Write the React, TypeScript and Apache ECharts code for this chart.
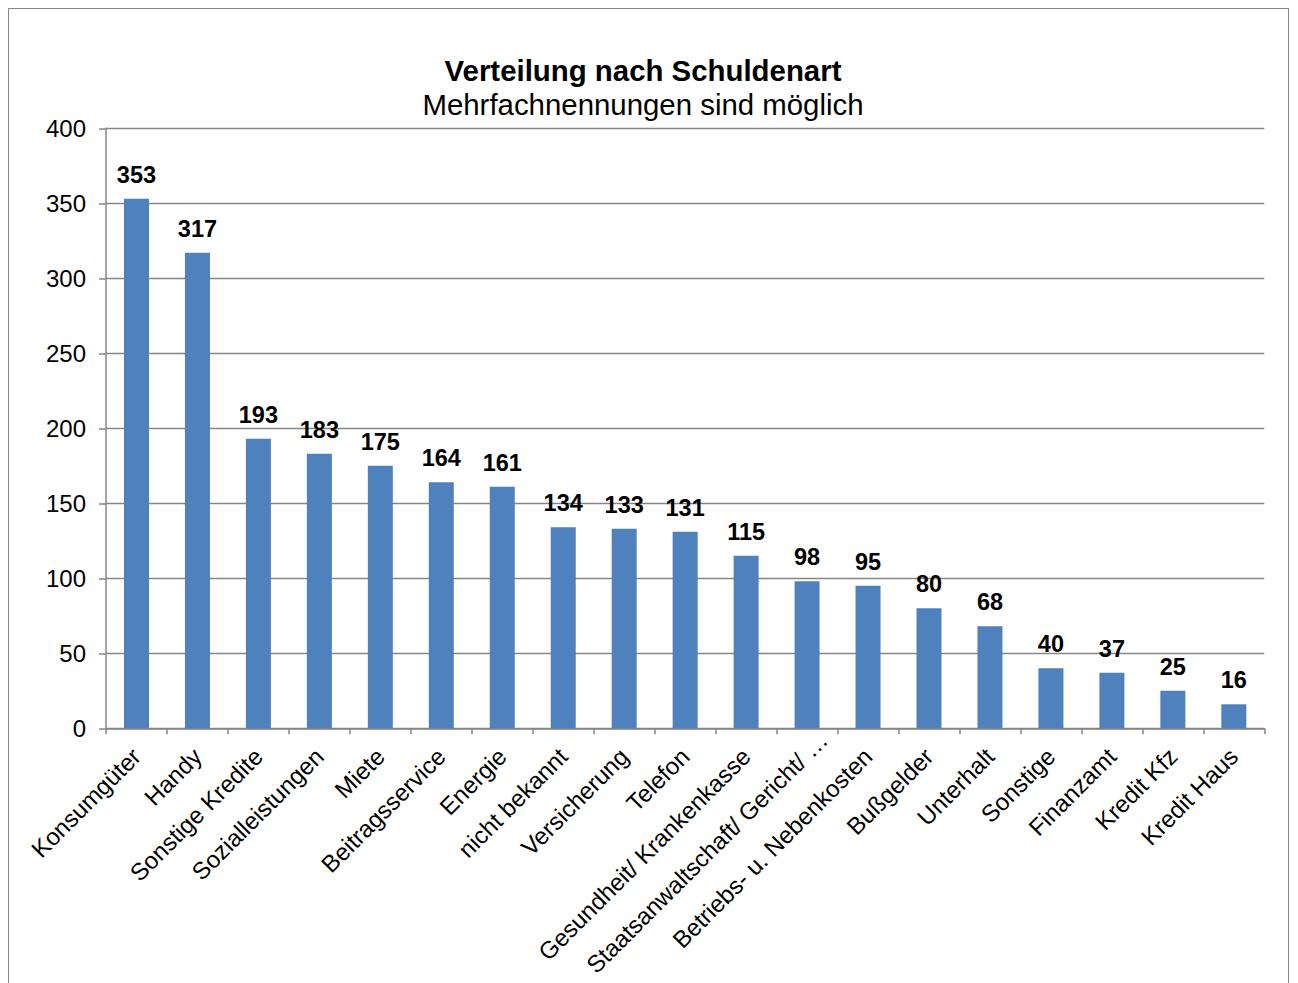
import React, { useEffect, useRef } from "react";
import * as echarts from "echarts";

const categories = [
  "Konsumgüter",
  "Handy",
  "Sonstige Kredite",
  "Sozialleistungen",
  "Miete",
  "Beitragsservice",
  "Energie",
  "nicht bekannt",
  "Versicherung",
  "Telefon",
  "Gesundheit/ Krankenkasse",
  "Staatsanwaltschaft/ Gericht/ …",
  "Betriebs- u. Nebenkosten",
  "Bußgelder",
  "Unterhalt",
  "Sonstige",
  "Finanzamt",
  "Kredit Kfz",
  "Kredit Haus",
];
const values = [353, 317, 193, 183, 175, 164, 161, 134, 133, 131, 115, 98, 95, 80, 68, 40, 37, 25, 16];
const titleText = "Verteilung nach Schuldenart";
const subtitleText = "Mehrfachnennungen sind möglich";
const yMin = 0;
const yMax = 400;
const yStep = 50;

const FONT = "'Liberation Sans', Arial, sans-serif";

export default function App() {
  const ref = useRef<HTMLDivElement>(null);
  useEffect(() => {
    if (!ref.current) return;
    const prevOverflow = document.body.style.overflow;
    document.body.style.overflow = "hidden";
    const chart = echarts.init(ref.current, null, { renderer: "svg" });
    const W = 1280;
    const H = 975;
    const axisData = categories.map((c) =>
      c.endsWith("…") ? { value: c, textStyle: { padding: [0, -23, 0, 0] } } : c
    );
    chart.setOption({
      animation: false,
      backgroundColor: "#ffffff",
      textStyle: { fontFamily: FONT },
      graphic: [
        {
          type: "text",
          x: 635,
          y: 62,
          style: {
            text: titleText,
            font: `bold 29.4px ${FONT}`,
            fill: "#000",
            textAlign: "center",
            textVerticalAlign: "middle",
          },
        },
        {
          type: "text",
          x: 635,
          y: 96,
          style: {
            text: subtitleText,
            font: `29.4px ${FONT}`,
            fill: "#000",
            textAlign: "center",
            textVerticalAlign: "middle",
          },
        },
      ],
      grid: {
        left: 98,
        right: W - 1256.3,
        top: 120.3,
        bottom: H - 720.3,
        containLabel: false,
        outerBoundsMode: "none",
      },
      xAxis: {
        type: "category",
        data: axisData,
        axisLine: { show: true, lineStyle: { color: "#868686", width: 1.5 } },
        axisTick: { show: true, length: 6, alignWithLabel: false, lineStyle: { color: "#868686", width: 1.5 } },
        axisLabel: {
          rotate: 45,
          interval: 0,
          margin: 24,
          color: "#000",
          fontSize: 24,
          fontFamily: FONT,
        },
      },
      yAxis: {
        type: "value",
        min: yMin,
        max: yMax,
        interval: yStep,
        axisLine: { show: true, lineStyle: { color: "#868686", width: 1.5 } },
        axisTick: { show: true, length: 7, lineStyle: { color: "#868686", width: 1.5 } },
        splitLine: { show: true, lineStyle: { color: "#868686", width: 1.3 } },
        axisLabel: { margin: 20, color: "#000", fontSize: 24, fontFamily: FONT },
      },
      series: [
        {
          type: "bar",
          data: values,
          barWidth: 25,
          itemStyle: { color: "#4F81BD" },
          label: {
            show: true,
            position: "top",
            distance: 12,
            color: "#000",
            fontWeight: "bold",
            fontSize: 23.5,
            fontFamily: FONT,
          },
        },
      ],
    });
    return () => {
      chart.dispose();
      document.body.style.overflow = prevOverflow;
    };
  }, []);
  return (
    <div style={{ position: "relative", width: 1280, height: 975 }}>
      <div ref={ref} style={{ width: 1280, height: 975 }} />
      <div
        style={{
          position: "absolute",
          left: 0,
          top: 0,
          width: 1281,
          height: 1000,
          boxSizing: "border-box",
          borderLeft: "1.6px solid #898989",
          borderTop: "1.6px solid #898989",
          borderRight: "1.6px solid #898989",
          pointerEvents: "none",
        }}
      />
    </div>
  );
}
